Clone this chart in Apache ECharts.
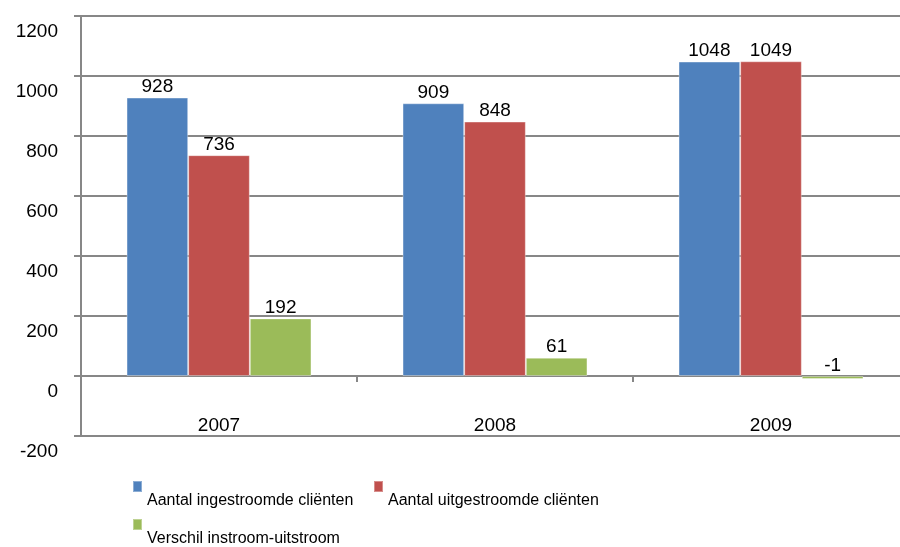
<!DOCTYPE html>
<html>
<head>
<meta charset="utf-8">
<script src="https://cdn.jsdelivr.net/npm/echarts@6/dist/echarts.min.js"></script>
<style>
  html, body { margin: 0; padding: 0; background: #fff; overflow: hidden; }
  #chart { width: 910px; height: 547px; }
</style>
</head>
<body>
<div id="chart"></div>
<script>
// jaren
var years = ['2007', '2008', '2009']
// instroom, uitstroom en verschil
var instroom = [928, 909, 1048]
var uitstroom = [736, 848, 1049]
var verschil = [192, 61, -1]
var seriesNames = ['Aantal ingestroomde cliënten', 'Aantal uitgestroomde cliënten', 'Verschil instroom-uitstroom']
var colors = ['#4F81BD', '#C0504D', '#9BBB59']

var chartDom = document.getElementById('chart')
var myChart = echarts.init(chartDom)

var font = 'Liberation Sans, Arial, sans-serif'
var gridColor = '#878787'

function barSeries(name, data, color) {
  return {
    name: name,
    type: 'bar',
    data: data,
    barGap: '0%',
    barCategoryGap: '33%',
    barMinHeight: 3,
    itemStyle: { color: color, borderColor: 'rgba(255,255,255,0.35)', borderWidth: 1 },
    label: {
      show: true,
      position: 'top',
      distance: 1,
      color: '#000',
      fontFamily: font,
      fontSize: 19
    }
  }
}

function legendItem(i, left, top) {
  return {
    data: [seriesNames[i]],
    left: left,
    top: top,
    itemWidth: 9,
    itemHeight: 11,
    itemGap: 0,
    icon: 'rect',
    formatter: function (name) {
      return '{t|' + name + '}'
    },
    textStyle: {
      color: '#000',
      fontFamily: font,
      fontSize: 16,
      rich: {
        t: { fontFamily: font, fontSize: 16, color: '#000', padding: [28, 0, 0, 0] }
      }
    }
  }
}

var option = {
  animation: false,
  backgroundColor: '#fff',
  color: colors,
  grid: { left: 81, top: 16, right: 1, height: 420, containLabel: false },
  legend: [
    legendItem(0, 127, 475),
    legendItem(1, 368, 475),
    legendItem(2, 127, 513)
  ],
  xAxis: [
    {
      type: 'category',
      data: years,
      position: 'bottom',
      axisLine: { show: false, onZero: false },
      axisTick: { show: false },
      axisLabel: {
        inside: true,
        margin: 1,
        color: '#000',
        fontFamily: font,
        fontSize: 19
      }
    },
    {
      type: 'category',
      data: years,
      position: 'top',
      axisLine: { show: true, onZero: true, lineStyle: { color: gridColor, width: 2 } },
      axisTick: { show: true, inside: true, length: 6, lineStyle: { color: gridColor, width: 2 } },
      axisLabel: { show: false }
    }
  ],
  yAxis: {
    type: 'value',
    min: -200,
    max: 1200,
    interval: 200,
    axisLine: { show: true, lineStyle: { color: gridColor, width: 2 } },
    axisTick: { show: true, length: 7, lineStyle: { color: gridColor, width: 2 } },
    splitLine: { show: true, lineStyle: { color: gridColor, width: 2 } },
    axisLabel: {
      margin: 23,
      color: '#000',
      fontFamily: font,
      fontSize: 19,
      verticalAlign: 'top',
      padding: [6, 0, 0, 0],
      formatter: function (v) { return String(v) }
    }
  },
  series: [
    barSeries(seriesNames[0], instroom, colors[0]),
    barSeries(seriesNames[1], uitstroom, colors[1]),
    barSeries(seriesNames[2], verschil, colors[2])
  ]
}

option && myChart.setOption(option)
</script>
</body>
</html>
